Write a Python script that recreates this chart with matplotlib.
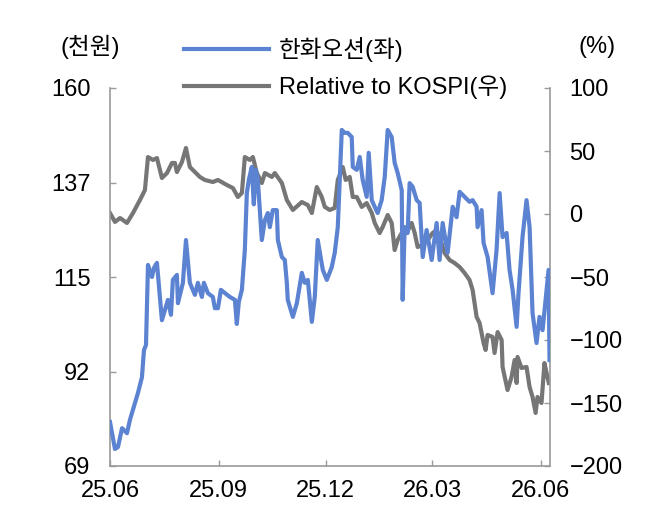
import matplotlib
matplotlib.use("Agg")
import matplotlib.pyplot as plt
import matplotlib.dates as mdates
import numpy as np
import pandas as pd

plt.rcParams['font.family'] = ['Liberation Sans', 'Noto Sans CJK KR', 'DejaVu Sans']
plt.rcParams['axes.unicode_minus'] = True

start_date = "2025-06-01"

# 한화오션 share price (천원), days since start
price_days = [0, 4.2, 6.8, 10.2, 14.4, 16.9, 21.2, 23.7, 27.1, 28.8, 30.5, 32.2, 35.6, 37.3, 39.8,
              44.0, 46.6, 49.1, 51.7, 53.3, 56.7, 57.6, 61.8, 64.4, 67.7, 72.0, 74.5, 77.9, 79.6,
              83.0, 87.2, 88.9, 91.5, 94.0, 101.6, 105.9, 107.5, 109.2, 111.8, 114.3, 116.0, 117.7,
              120.2, 121.9, 123.6, 125.3, 128.7, 131.3, 133.8, 135.5, 138.0, 141.4, 142.3, 145.7,
              148.2, 149.9, 150.7, 155.0, 158.4, 162.6, 165.1, 167.7, 171.1, 173.6, 176.1, 180.4,
              183.8, 188.0, 190.5, 193.1, 196.5, 199.0, 201.5, 204.9, 205.8, 209.2, 211.7, 214.2,
              217.6, 219.3, 221.9, 224.4, 226.9, 230.3, 232.9, 235.4, 238.8, 241.3, 243.9, 247.3,
              248.1, 249.8, 252.3, 254.0, 256.6, 260.0, 262.5, 265.1, 268.4, 272.7, 276.9, 279.4,
              282.0, 286.2, 290.5, 293.8, 296.4, 300.6, 304.8, 307.4, 310.8, 311.6, 315.0, 316.7,
              320.1, 324.3, 327.7, 330.3, 332.8, 336.2, 338.7, 341.3, 344.7, 346.3, 349.7, 353.1,
              355.7, 358.2, 361.6, 364.1, 366.7, 370.1, 371.8, 372.6]
price_vals = [79.6, 73.1, 73.6, 78.1, 76.9, 80.1, 84.2, 86.6, 90.4, 96.9, 98.1, 117.4, 114.5, 116.7,
              117.9, 104.1, 106.6, 109.0, 105.4, 113.8, 115.0, 108.2, 113.1, 123.4, 113.1, 110.2,
              113.1, 109.7, 113.1, 110.6, 109.7, 107.0, 107.0, 111.4, 109.7, 109.0, 103.2, 108.5,
              111.4, 121.0, 134.7, 137.9, 141.0, 132.0, 140.3, 137.9, 123.4, 128.2, 129.9, 126.5,
              130.6, 130.6, 123.4, 119.3, 118.6, 113.1, 109.0, 104.9, 108.2, 115.5, 113.1, 113.8,
              103.7, 109.7, 123.4, 116.2, 113.8, 116.9, 120.3, 126.5, 149.9, 149.2, 149.2, 148.2,
              141.0, 140.3, 143.4, 137.9, 133.8, 144.4, 133.0, 131.4, 129.9, 133.0, 138.6, 149.9,
              148.2, 142.0, 139.5, 135.4, 109.0, 126.5, 125.1, 137.1, 136.2, 133.0, 132.3, 119.3,
              125.8, 118.6, 127.5, 118.6, 127.5, 120.3, 131.4, 128.9, 135.0, 133.8, 132.6, 133.0,
              131.4, 126.5, 130.6, 122.7, 119.3, 110.6, 121.0, 134.7, 124.1, 125.1, 116.2, 111.4,
              102.5, 110.6, 124.1, 133.0, 126.5, 105.8, 98.6, 104.9, 101.7, 111.4, 116.2, 94.5]

# Relative to KOSPI (%), days since start
rel_days = [0, 4.2, 8.5, 14.4, 19.5, 25.4, 29.6, 32.2, 36.4, 39.8, 44.0, 48.3, 52.5, 55.0, 56.7,
            61.0, 64.4, 67.7, 72.0, 76.2, 80.4, 87.2, 91.5, 99.1, 104.2, 108.4, 111.8, 114.3,
            118.6, 121.1, 124.5, 128.7, 131.3, 137.2, 139.7, 145.7, 149.9, 155.0, 162.6, 167.7,
            171.1, 175.3, 179.5, 182.1, 186.3, 190.5, 193.1, 197.3, 199.8, 203.2, 205.8, 209.2,
            213.4, 217.6, 221.9, 224.4, 228.6, 231.2, 235.4, 238.8, 241.3, 243.9, 247.3, 251.5,
            255.7, 258.3, 260.8, 265.1, 269.3, 273.5, 276.9, 279.4, 283.7, 287.9, 292.1, 296.4,
            300.6, 304.8, 307.4, 310.8, 313.3, 316.7, 318.4, 320.1, 324.3, 326.0, 328.6, 332.0,
            332.8, 337.0, 340.4, 343.0, 344.7, 345.5, 348.9, 353.1, 355.7, 358.2, 360.8, 362.4,
            365.8, 368.3, 370.1, 372.0]
rel_vals = [0.8, -6.3, -3.2, -7.1, 0.8, 11.1, 19.0, 45.2, 42.9, 44.4, 28.6, 32.5, 40.5, 40.5, 33.3,
            41.3, 52.4, 37.3, 33.3, 29.4, 27.0, 25.4, 27.0, 23.0, 20.6, 13.5, 16.7, 45.2, 42.9,
            45.2, 32.5, 24.6, 32.5, 29.4, 32.5, 24.6, 11.1, 3.2, 9.5, 7.1, 0.8, 21.4, 13.5, 5.6,
            3.2, 4.8, 27.0, 37.3, 27.0, 29.4, 13.5, 13.5, 5.6, 8.7, 0.8, -7.1, -15.1, -10.3, -0.8,
            -7.1, -28.6, -20.6, -15.1, -15.1, -7.1, -15.1, -26.2, -24.6, -20.6, -15.1, -12.7,
            -18.3, -31.0, -36.5, -38.9, -42.1, -46.8, -52.4, -60.3, -81.7, -86.5, -102.4, -107.9,
            -96.0, -97.6, -110.3, -93.7, -100.0, -121.4, -139.7, -129.4, -115.9, -134.1, -113.5,
            -122.2, -121.4, -137.3, -145.2, -157.9, -145.2, -150.0, -118.3, -126.2, -134.1]

left_ticks = [69, 91.75, 114.5, 137.25, 160]
left_labels = ["69", "92", "115", "137", "160"]
right_ticks = [-200, -150, -100, -50, 0, 50, 100]
x_ticks = ["2025-06-01", "2025-09-01", "2025-12-01", "2026-03-01", "2026-06-01"]
x_labels = ["25.06", "25.09", "25.12", "26.03", "26.06"]
x_end = "2026-06-09"

label_price = "한화오션(좌)"
label_rel = "Relative to KOSPI(우)"

blue = "#5B83D2"
gray = "#767676"
spine_c = "#9a9a9a"
fs = 17

t0 = pd.Timestamp(start_date)
price_dates = t0 + pd.to_timedelta(price_days, unit="D")
rel_dates = t0 + pd.to_timedelta(rel_days, unit="D")

fig = plt.figure(figsize=(6.58, 5.27), dpi=100)
ax = fig.add_axes([110/658, 1-466/527, 440/658, 378/527])
ax2 = ax.twinx()

l2, = ax2.plot(rel_dates, rel_vals, color=gray, lw=3.0, solid_joinstyle="round", zorder=2)
l1, = ax.plot(price_dates, price_vals, color=blue, lw=3.0, solid_joinstyle="round", zorder=3)
ax.set_zorder(ax2.get_zorder() + 1)
ax.patch.set_visible(False)

ax.set_ylim(69, 160)
ax2.set_ylim(-200, 100)
ax.set_xlim(t0, pd.Timestamp(x_end))

ax.set_yticks(left_ticks)
ax.set_yticklabels(left_labels)
ax2.set_yticks(right_ticks)
ax.set_xticks(pd.to_datetime(x_ticks))
ax.set_xticklabels(x_labels)

for a in (ax, ax2):
    a.spines["top"].set_visible(False)
    for s in ("left", "right", "bottom"):
        a.spines[s].set_color(spine_c)
        a.spines[s].set_linewidth(1.2)
    a.tick_params(direction="in", length=4, width=1.0, color=spine_c, labelsize=fs, pad=14)
ax.tick_params(axis="x", pad=10)
ax.spines["right"].set_visible(False)
ax2.spines["left"].set_visible(False)
ax2.spines["bottom"].set_visible(False)

fig.text(90/658, 1-47/527, "(천원)", fontsize=fs, ha="center", va="center")
fig.text(597/658, 1-47/527, "(%)", fontsize=fs, ha="center", va="center")

fig.legend([l1, l2], [label_price, label_rel], loc="upper left",
           bbox_to_anchor=(175/658, 1-28/527), frameon=False, fontsize=fs,
           handlelength=3.6, handletextpad=0.4, labelspacing=0.55, borderaxespad=0)

fig.savefig("out.png", dpi=100)
